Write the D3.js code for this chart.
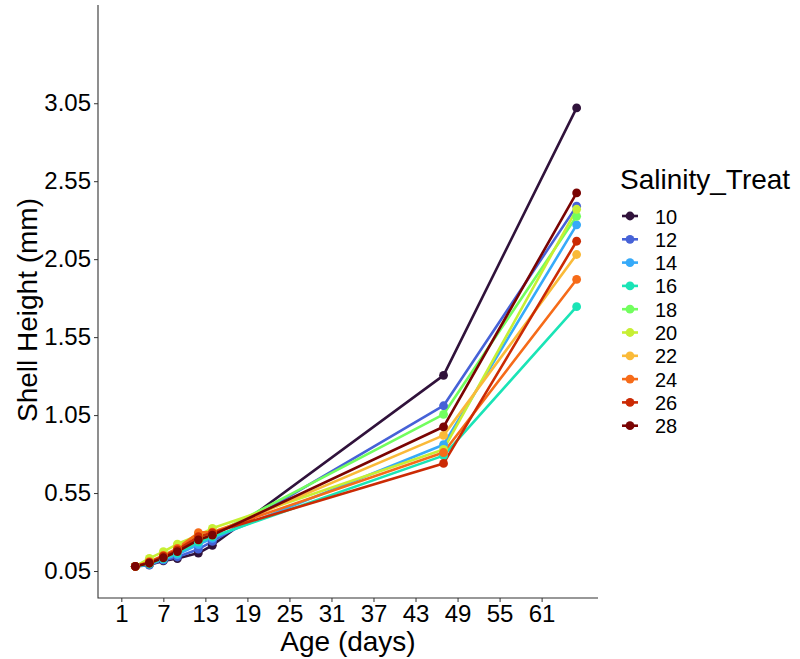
<!DOCTYPE html>
<html>
<head>
<meta charset="utf-8">
<script src="https://cdn.jsdelivr.net/npm/d3@7"></script>
<style>
  html, body { margin: 0; padding: 0; background: #fff; }
  svg { display: block; }
  text { font-family: "Liberation Sans", Arial, sans-serif; fill: #000; }
</style>
</head>
<body>
<svg id="chart" width="800" height="659"></svg>
<script>
// Measurement ages (days)
const ages = [3, 5, 7, 9, 12, 14, 47, 66];

// Salinity treatments and their colours (turbo palette)
const treatments = ["10", "12", "14", "16", "18", "20", "22", "24", "26", "28"];
const colors = ["#30123B", "#4662D7", "#36AAF9", "#1AE4B6", "#72FE5E",
                "#C7EF34", "#FABA39", "#F66B19", "#CB2A04", "#7A0403"];

// Mean shell height (mm) per treatment at each age
const sal10 = [0.08, 0.09, 0.115, 0.13, 0.165, 0.215, 1.305, 3.02];
const sal12 = [0.08, 0.088, 0.12, 0.14, 0.19, 0.24, 1.11, 2.39];
const sal14 = [0.08, 0.095, 0.125, 0.155, 0.22, 0.26, 0.86, 2.27];
const sal16 = [0.08, 0.095, 0.13, 0.165, 0.235, 0.27, 0.79, 1.745];
const sal18 = [0.08, 0.10, 0.14, 0.18, 0.25, 0.28, 1.055, 2.325];
const sal20 = [0.08, 0.131, 0.174, 0.223, 0.28, 0.324, 0.83, 2.37];
const sal22 = [0.08, 0.105, 0.145, 0.185, 0.265, 0.29, 0.92, 2.08];
const sal24 = [0.08, 0.11, 0.15, 0.195, 0.296, 0.30, 0.81, 1.92];
const sal26 = [0.08, 0.105, 0.145, 0.185, 0.27, 0.295, 0.74, 2.165];
const sal28 = [0.08, 0.10, 0.135, 0.175, 0.25, 0.28, 0.975, 2.475];
const heights = [sal10, sal12, sal14, sal16, sal18, sal20, sal22, sal24, sal26, sal28];

// Axis breaks
const xTicks = [1, 7, 13, 19, 25, 31, 37, 43, 49, 55, 61];
const yTicks = [0.05, 0.55, 1.05, 1.55, 2.05, 2.55, 3.05];

const svg = d3.select("#chart");
const panel = { left: 98, right: 598, top: 5, bottom: 598 };

const x = d3.scaleLinear().domain([-2.33, 69.05]).range([panel.left, panel.right]);
const y = d3.scaleLinear().domain([-0.123, 3.68]).range([panel.bottom, panel.top]);

const series = treatments.map((t, i) => ({
  key: t,
  color: colors[i],
  values: ages.map((a, j) => ({ age: a, h: heights[i][j] }))
}));

// Axes
const xAxis = svg.append("g")
  .attr("transform", `translate(0,${panel.bottom})`)
  .call(d3.axisBottom(x).tickValues(xTicks).tickFormat(d3.format("d")).tickSize(4).tickPadding(3));
const yAxis = svg.append("g")
  .attr("transform", `translate(${panel.left},0)`)
  .call(d3.axisLeft(y).tickValues(yTicks).tickFormat(d3.format(".2f")).tickSize(4).tickPadding(3));

[xAxis, yAxis].forEach(g => {
  g.select(".domain").remove();
  g.selectAll(".tick line").attr("stroke", "#333").attr("stroke-width", 1);
  g.selectAll(".tick text").attr("font-size", 24).attr("fill", "#000")
    .attr("font-family", "'Liberation Sans', Arial, sans-serif");
});

// Axis lines (L-shaped frame)
svg.append("path")
  .attr("d", `M${panel.left},${panel.top}V${panel.bottom}H${panel.right}`)
  .attr("fill", "none").attr("stroke", "#333").attr("stroke-width", 1.1);

// Lines
const line = d3.line().x(d => x(d.age)).y(d => y(d.h));
svg.append("g").selectAll("path")
  .data(series).join("path")
  .attr("d", d => line(d.values))
  .attr("fill", "none")
  .attr("stroke", d => d.color)
  .attr("stroke-width", 2.6)
  .attr("stroke-linejoin", "round");

// Points
series.forEach(s => {
  svg.append("g").selectAll("circle")
    .data(s.values).join("circle")
    .attr("cx", d => x(d.age))
    .attr("cy", d => y(d.h))
    .attr("r", 4.4)
    .attr("fill", s.color);
});

// Axis titles
svg.append("text")
  .attr("x", (panel.left + panel.right) / 2).attr("y", 651)
  .attr("text-anchor", "middle").attr("font-size", 28)
  .text("Age (days)");
svg.append("text")
  .attr("transform", "translate(37,310) rotate(-90)")
  .attr("text-anchor", "middle").attr("font-size", 28)
  .text("Shell Height (mm)");

// Legend
const legend = svg.append("g");
legend.append("text")
  .attr("x", 620).attr("y", 189)
  .attr("font-size", 28)
  .text("Salinity_Treat");
const item = legend.selectAll("g.item")
  .data(series).join("g")
  .attr("class", "item")
  .attr("transform", (d, i) => `translate(0,${216 + i * 23.3})`);
item.append("line")
  .attr("x1", 622).attr("x2", 638).attr("y1", 0).attr("y2", 0)
  .attr("stroke", d => d.color).attr("stroke-width", 2.6);
item.append("circle")
  .attr("cx", 630).attr("cy", 0).attr("r", 4.4)
  .attr("fill", d => d.color);
item.append("text")
  .attr("x", 655).attr("y", 7.5)
  .attr("font-size", 20)
  .text(d => d.key);
</script>
</body>
</html>
